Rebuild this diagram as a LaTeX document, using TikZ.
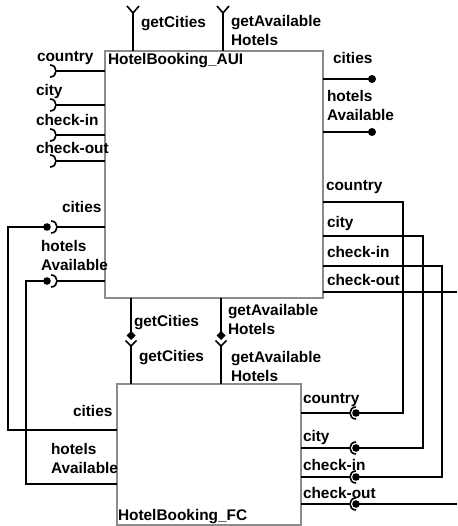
\documentclass[tikz,border=0pt]{standalone}
\usepackage{fontspec}
\setmainfont{Liberation Sans}
\begin{document}
\begin{tikzpicture}[x=1pt,y=-1pt,
  box/.style={draw=black!45, line width=1.5pt, inner sep=0pt, outer sep=0pt, fill=white},
  wire/.style={line width=1.6pt, black},
  lbl/.style={anchor=base west, inner sep=0pt, outer sep=0pt, align=left,
    font=\fontsize{15.4}{19}\selectfont\bfseries},
  sockR/.pic={\draw[wire] (0,-6) .. controls (8,-6) and (8,6) .. (0,6);},
  sockL/.pic={\draw[wire] (0,-6) .. controls (-8,-6) and (-8,6) .. (0,6);},
  forkup/.pic={\draw[wire] (-6,-7) -- (0,0) -- (6,-7);},
  diamch/.pic={\fill (0,-4.5) -- (4.5,0) -- (0,4.5) -- (-4.5,0) -- cycle;
               \draw[wire] (-5.5,5) -- (0,10.5) -- (5.5,5);}
]
\useasboundingbox (0,0) rectangle (457,526);

% ---------- boxes ----------
\node[box, minimum width=218pt, minimum height=247pt] (aui) at (214,174.5) {};
\node[box, minimum width=184pt, minimum height=141pt] (fc) at (209,454.5) {};
\node[lbl] (auiT) at (108,65) {HotelBooking\_AUI};
\node[lbl] (fcT) at (118,520) {HotelBooking\_FC};

% ---------- top provided/required ----------
\coordinate (tg1) at (133,51);  \coordinate (tg1e) at (133,13);
\coordinate (tg2) at (223,51);  \coordinate (tg2e) at (223,13);
\draw[wire] (tg1) -- (tg1e); \pic at (tg1e) {forkup};
\draw[wire] (tg2) -- (tg2e); \pic at (tg2e) {forkup};
\node[lbl] (l1) at (141,28) {getCities};
\node[lbl] (l2) at (231,46) {getAvailable\\Hotels};

% ---------- AUI left inputs ----------
\foreach \yy/\nm in {71/a,105/b,135/c,161/d}{
  \coordinate (ain\nm) at (105,\yy);
  \coordinate (asock\nm) at (56,\yy);
  \draw[wire] (asock\nm) -- (ain\nm);
  \pic at (50,\yy) {sockR};
}
\node[lbl] (l3) at (37,62) {country};
\node[lbl] (l4) at (36,96) {city};
\node[lbl] (l5) at (36,126) {check-in};
\node[lbl] (l6) at (36,154) {check-out};

% ---------- AUI right outputs ----------
\coordinate (ao1) at (323,79);  \coordinate (ob1) at (372,79);
\coordinate (ao2) at (323,132); \coordinate (ob2) at (372,132);
\draw[wire] (ao1) -- (ob1); \fill (ob1) circle (4);
\draw[wire] (ao2) -- (ob2); \fill (ob2) circle (4);
\node[lbl] (l7) at (333,64) {cities};
\node[lbl] (l8) at (327,121) {hotels\\Available};

% ---------- AUI left required (cities / hotelsAvailable) ----------
\coordinate (ar1) at (105,227); \coordinate (ar1s) at (57,227); \coordinate (ar1b) at (47,227);
\coordinate (ar2) at (105,281); \coordinate (ar2s) at (57,281); \coordinate (ar2b) at (47,281);
\coordinate (fl1) at (117,430);
\coordinate (fl2) at (117,484);
\draw[wire] (ar1s) -- (ar1); \pic at (51,227) {sockR};
\draw[wire] (ar2s) -- (ar2); \pic at (51,281) {sockR};
\fill (ar1b) circle (3.8);
\fill (ar2b) circle (3.8);
\draw[wire] (ar1b) -- (8,227) -- (8,430) -- (fl1);
\draw[wire] (ar2b) -- (26,281) -- (26,484) -- (fl2);
\node[lbl] (l9) at (62,213) {cities};
\node[lbl] (l10) at (41,270) {hotels\\Available};
\node[lbl] (l11) at (73,416) {cities};
\node[lbl] (l12) at (51,473) {hotels\\Available};

% ---------- bottom connectors AUI -> FC ----------
\coordinate (bg1) at (131,298); \coordinate (bg1d) at (131,335.5); \coordinate (bg1f) at (131,384);
\coordinate (bg2) at (221,298); \coordinate (bg2d) at (221,335.5); \coordinate (bg2f) at (221,384);
\draw[wire] (bg1) -- (bg1d); \draw[wire] (131,346) -- (bg1f); \pic at (bg1d) {diamch};
\draw[wire] (bg2) -- (bg2d); \draw[wire] (221,346) -- (bg2f); \pic at (bg2d) {diamch};
\node[lbl] (l13) at (134,326) {getCities};
\node[lbl] (l14) at (228,334) {getAvailable\\Hotels};
\node[lbl] (l15) at (139,361) {getCities};
\node[lbl] (l16) at (231,381) {getAvailable\\Hotels};

% ---------- AUI right outgoing -> FC right ----------
\coordinate (ac1) at (323,202); \coordinate (ac2) at (323,236);
\coordinate (ac3) at (323,266); \coordinate (ac4) at (323,292);
\coordinate (edge1) at (457,292);
\coordinate (fb1) at (356,413); \coordinate (fb2) at (356,448);
\coordinate (fb3) at (356,477); \coordinate (fb4) at (356,504);
\coordinate (edge2) at (457,504);
\draw[wire] (ac1) -- (403,202) -- (403,413) -- (fb1);
\draw[wire] (ac2) -- (423,236) -- (423,448) -- (fb2);
\draw[wire] (ac3) -- (442,266) -- (442,477) -- (fb3);
\draw[wire] (ac4) -- (edge1);
\draw[wire] (fb4) -- (edge2);
\foreach \yy/\nm in {413/a,448/b,477/c,504/d}{
  \coordinate (fo\nm) at (301,\yy);
  \coordinate (fs\nm) at (350,\yy);
  \draw[wire] (fo\nm) -- (fs\nm);
  \pic at (356,\yy) {sockL};
  \fill (356,\yy) circle (3.8);
}
\node[lbl] (l17) at (326,191) {country};
\node[lbl] (l18) at (327,228) {city};
\node[lbl] (l19) at (327,257) {check-in};
\node[lbl] (l20) at (327,285) {check-out};
\node[lbl] (l21) at (303,403) {country};
\node[lbl] (l22) at (303,441) {city};
\node[lbl] (l23) at (303,470) {check-in};
\node[lbl] (l24) at (303,498) {check-out};
\end{tikzpicture}
\end{document}
